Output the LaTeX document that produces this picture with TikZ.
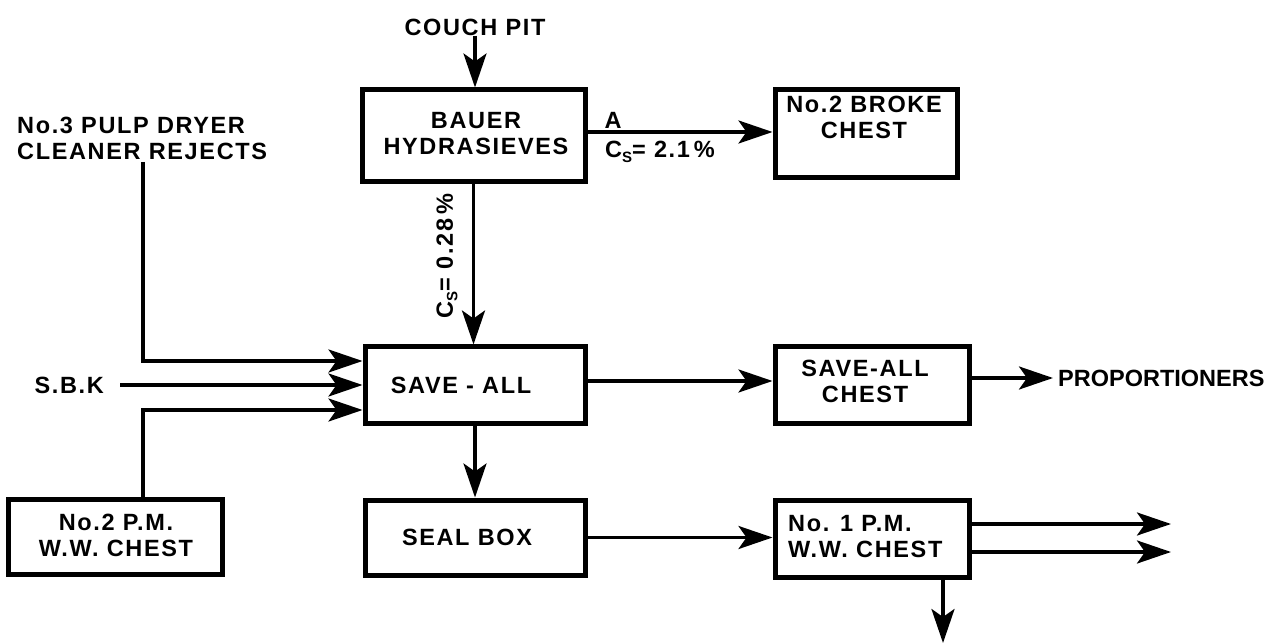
\documentclass[tikz,border=0pt]{standalone}
\usepackage{fontspec}
\setmainfont{Liberation Sans}[LetterSpace=7]
\usetikzlibrary{arrows.meta,positioning,calc}
\newcommand\Csub{C\raisebox{-0.35ex}{\fontsize{15}{15}\selectfont S}}
\begin{document}
\begin{tikzpicture}[x=1pt,y=-1pt,
  every node/.style={font=\bfseries\fontsize{23.5}{26}\selectfont, inner sep=0pt},
  box/.style={draw, line width=5pt, inner sep=0pt},
  lbl/.style={align=center},
  arr/.style={line width=3.4pt, -{Stealth[length=34pt,width=23pt,inset=8pt]}},
  ln/.style={line width=3.4pt}]
\useasboundingbox[fill=white] (0,0) rectangle (1275,644);

% boxes
\node[box, minimum width=223pt, minimum height=92pt] (bauer) at (473.5,136) {};
\node[box, minimum width=182pt, minimum height=88pt] (broke) at (866,134) {};
\node[box, minimum width=220pt, minimum height=76pt] (saveall) at (475,385) {};
\node[box, minimum width=194pt, minimum height=76pt] (sachest) at (872,385) {};
\node[box, minimum width=220pt, minimum height=75pt] (seal) at (475,537.5) {};
\node[box, minimum width=214pt, minimum height=75pt] (pm2) at (115.5,536.5) {};
\node[box, minimum width=194pt, minimum height=77pt] (pm1) at (872,538.5) {};

% texts
\node (couch) at (475,27) {COUCH PIT};
\node[lbl] (bauert) at (476,134) {BAUER\\HYDRASIEVES};
\node (labA) at (613,120) {A};
\node (cs1) at (660,152) {\Csub= 2.1\,\%};
\node[lbl] (broket) at (864,117) {No.2 BROKE\\CHEST};
\node[align=left, anchor=west] (no3) at (17,138) {No.3 PULP DRYER\\CLEANER REJECTS};
\node[anchor=east] (sbk) at (104,385) {S.B.K};
\node (savet) at (461,385) {SAVE - ALL};
\node[lbl] (sachestt) at (865,381) {SAVE-ALL\\CHEST};
\node[anchor=west, font=\bfseries\fontsize{23.5}{26}\selectfont\addfontfeature{LetterSpace=0}] (prop) at (1058,378) {PROPORTIONERS};
\node (sealt) at (467,537) {SEAL BOX};
\node[lbl] (pm2t) at (116,535) {No.2 P.M.\\W.W. CHEST};
\node[align=left, anchor=west] (pm1t) at (788,537) {No. 1 P.M.\\W.W. CHEST};
\node[rotate=90] (cs2) at (447,256) {\Csub= 0.28\,\%};

% free ends
\coordinate (n3) at (143,162);
\coordinate (o1) at (1171,524);
\coordinate (o2) at (1171,552);
\coordinate (o3) at (943,643);

% connectors
\draw[arr] (couch.south) -- (couch.south |- bauer.north);
\draw[arr] ([yshift=4pt]bauer.east) -- ([yshift=4pt]bauer.east -| broke.west);
\draw[arr] (bauer.south) -- (bauer.south |- saveall.north);
\draw[arr] (n3) |- ([yshift=24pt]saveall.west);
\draw[arr] ([xshift=16pt]sbk.east) -- (saveall.west);
\draw[arr] ([xshift=27.5pt]pm2.north) |- ([yshift=-25pt]saveall.west);
\draw[arr] ([yshift=4pt]saveall.east) -- ([yshift=4pt]saveall.east -| sachest.west);
\draw[arr] ([yshift=7pt]sachest.east) -- ([yshift=7pt,xshift=-5pt]sachest.east -| prop.west);
\draw[arr] (saveall.south) -- (seal.north);
\draw[arr] (seal.east) -- (seal.east -| pm1.west);
\draw[arr] (pm1.east |- o1) -- (o1);
\draw[arr] (pm1.east |- o2) -- (o2);
\draw[arr] (o3 |- pm1.south) -- (o3);
\end{tikzpicture}
\end{document}
